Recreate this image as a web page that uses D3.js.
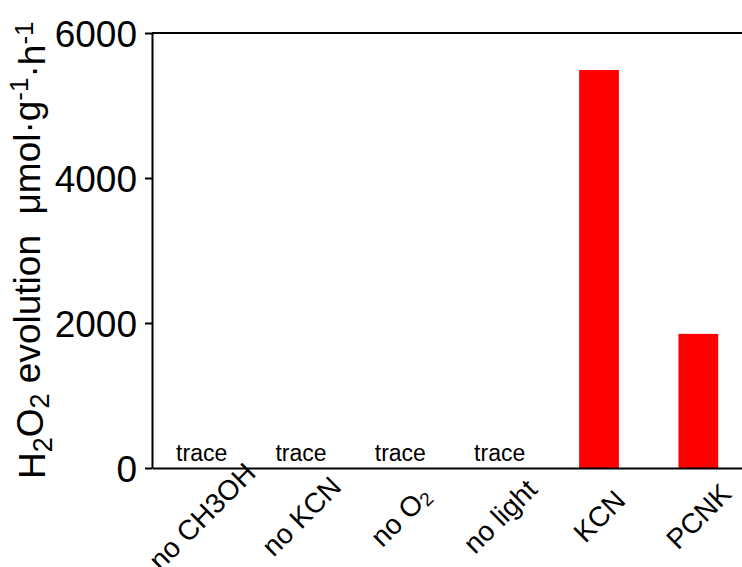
<!DOCTYPE html>
<html>
<head>
<meta charset="utf-8">
<script src="https://cdn.jsdelivr.net/npm/d3@7/dist/d3.min.js"></script>
<style>
  html, body { margin: 0; padding: 0; background: #fff; }
  svg { display: block; }
  text { font-family: "Liberation Sans", Arial, sans-serif; fill: #000; }
</style>
</head>
<body>
<svg id="chart" width="742" height="567"></svg>
<script>
// Sample conditions (underscore marks a subscript digit in the drawn label)
const categories = ["no CH3OH", "no KCN", "no O_2", "no light", "KCN", "PCNK"];
// H2O2 evolution rate, µmol·g⁻¹·h⁻¹ (trace amounts drawn as zero)
const values = [0, 0, 0, 0, 5490, 1850];
// Text written above each bar
const barNotes = ["trace", "trace", "trace", "trace", "", ""];
// Y axis ticks
const yTicks = [0, 2000, 4000, 6000];

const svg = d3.select("#chart");
const plotLeft = 152, plotRight = 748, plotTop = 33, plotBottom = 468;

const x = d3.scaleBand()
  .domain(categories)
  .range([plotLeft, plotRight])
  .paddingInner(0.6)
  .paddingOuter(0.3);

const y = d3.scaleLinear()
  .domain([0, 6000])
  .range([plotBottom, plotTop]);

// Bars
svg.append("g")
  .selectAll("rect")
  .data(values)
  .join("rect")
  .attr("x", (d, i) => x(categories[i]))
  .attr("y", d => y(d))
  .attr("width", x.bandwidth())
  .attr("height", d => y(0) - y(d))
  .attr("fill", "#ff0000");

// Notes above bars
svg.append("g")
  .selectAll("text")
  .data(barNotes)
  .join("text")
  .attr("x", (d, i) => x(categories[i]) + x.bandwidth() / 2)
  .attr("y", (d, i) => y(values[i]) - 7)
  .attr("text-anchor", "middle")
  .style("font-size", "23px")
  .text(d => d);

// Y axis
const yAxis = svg.append("g")
  .attr("transform", `translate(${plotLeft},0)`)
  .call(d3.axisLeft(y).tickValues(yTicks).tickFormat(d3.format("d"))
    .tickSize(7).tickSizeOuter(0).tickPadding(8));
yAxis.selectAll("path, line").attr("stroke", "#000").attr("stroke-width", 2);
yAxis.selectAll("text").style("font-size", "37px").attr("dy", "0.36em")
  .style("font-family", "'Liberation Sans', Arial, sans-serif");

// X axis (baseline only, no ticks)
const xAxis = svg.append("g")
  .attr("transform", `translate(0,${plotBottom})`)
  .call(d3.axisBottom(x).tickSize(0).tickSizeOuter(0).tickFormat(""));
xAxis.selectAll("path").attr("stroke", "#000").attr("stroke-width", 2);
xAxis.selectAll("text").remove();

// Top frame line
svg.append("line")
  .attr("x1", plotLeft).attr("x2", plotRight)
  .attr("y1", y(6000)).attr("y2", y(6000))
  .attr("stroke", "#000").attr("stroke-width", 2);

// Rotated category labels, each centred on a point below its bar
const labelSize = 28;
const labelCenterY = 516;
const labelG = svg.append("g");
categories.forEach(cat => {
  const g = labelG.append("g");
  const t = g.append("text")
    .attr("text-anchor", "middle")
    .style("font-size", labelSize + "px");
  const parts = cat.split(/(_\d)/).filter(s => s.length);
  parts.forEach(p => {
    if (p.startsWith("_")) {
      t.append("tspan").attr("dy", "0.15em").style("font-size", "19px").text(p.slice(1));
    } else {
      t.append("tspan").text(p);
    }
  });
  // vertical centre of the capitals sits on the anchor point
  t.attr("y", labelSize * 0.36);
  g.attr("transform", `translate(${x(cat) + x.bandwidth() / 2},${labelCenterY}) rotate(-45)`);
});

// Y axis title
const title = svg.append("text")
  .attr("transform", `translate(45,479) rotate(-90)`)
  .attr("text-anchor", "start")
  .style("white-space", "pre")
  .style("font-size", "37px");
title.append("tspan").text("H");
title.append("tspan").attr("dy", "0.25em").style("font-size", "27px").text("2");
title.append("tspan").attr("dy", "-0.25em").text("O");
title.append("tspan").attr("dy", "0.25em").style("font-size", "27px").text("2");
title.append("tspan").attr("dy", "-0.25em").text(" evolution  \u03bcmol\u00b7g");
title.append("tspan").attr("dy", "-0.45em").style("font-size", "26px").text("-1");
title.append("tspan").attr("dy", "0.45em").text("\u00b7h");
title.append("tspan").attr("dy", "-0.45em").style("font-size", "26px").text("-1");
</script>
</body>
</html>
